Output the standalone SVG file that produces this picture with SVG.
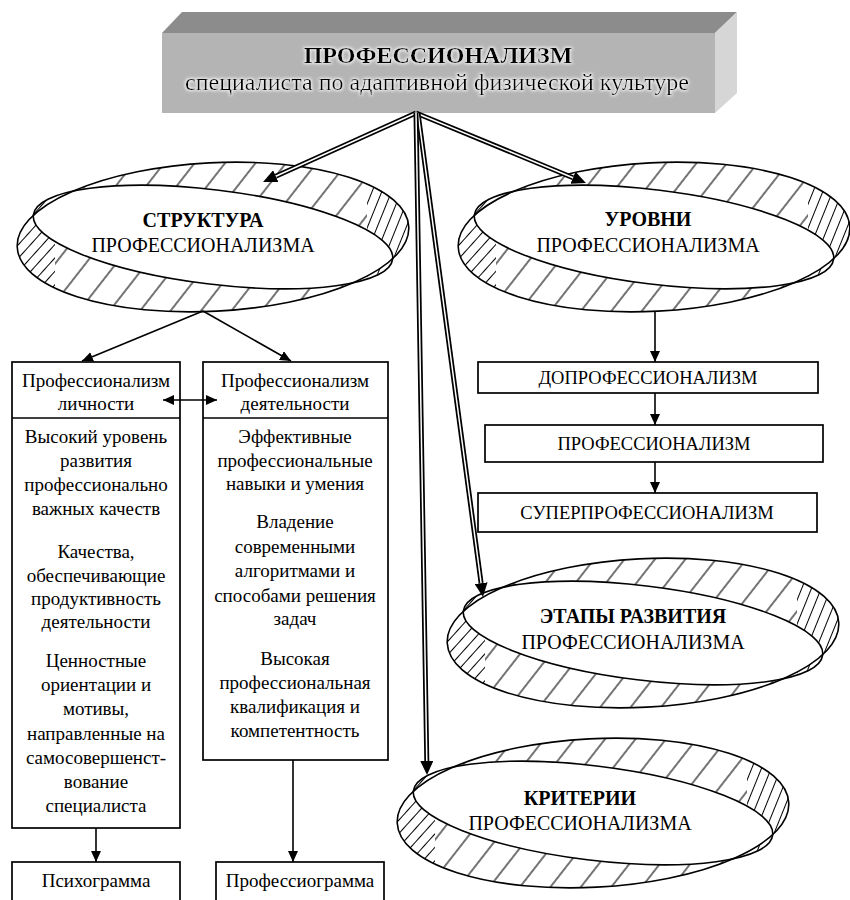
<svg xmlns="http://www.w3.org/2000/svg" width="850" height="900" viewBox="0 0 850 900">
<style>
text{font-family:"Liberation Serif","Times New Roman",serif;fill:#000;text-anchor:middle}
.t24{font-size:24px}
.b{font-weight:bold}
.e20{font-size:20px}
.bx{font-size:19px}
.lv{font-size:18.5px}
.box{fill:#fff;stroke:#000;stroke-width:1.7}
.ring{fill:none;stroke:#000;stroke-width:1.6}
.ln{fill:none;stroke:#000;stroke-width:1.6}
.dblk{fill:none;stroke:#000;stroke-width:5}
.dwht{fill:none;stroke:#fff;stroke-width:1.5}
</style>
<defs>
<filter id="glow" x="-10%" y="-30%" width="120%" height="160%">
<feMorphology in="SourceAlpha" operator="dilate" radius="1.2" result="d"/>
<feGaussianBlur in="d" stdDeviation="1.5" result="b"/>
<feFlood flood-color="#fff" flood-opacity="0.8"/>
<feComposite in2="b" operator="in" result="g"/>
<feMerge><feMergeNode in="g"/><feMergeNode in="SourceGraphic"/></feMerge>
</filter>
<pattern id="hatch" patternUnits="userSpaceOnUse" width="24" height="24" patternTransform="rotate(38)">
<line x1="12" y1="0" x2="12" y2="24" stroke="#000" stroke-width="1.1"/>
</pattern>
<pattern id="hatchL" patternUnits="userSpaceOnUse" width="9" height="9" patternTransform="rotate(42)">
<line x1="4.5" y1="0" x2="4.5" y2="9" stroke="#000" stroke-width="1"/>
</pattern>
<pattern id="hatchR" patternUnits="userSpaceOnUse" width="9" height="9" patternTransform="rotate(22)">
<line x1="4.5" y1="0" x2="4.5" y2="9" stroke="#000" stroke-width="1"/>
</pattern>
<path id="ringOuter" d="M -195.73 10.26 A 196 74 -3 1 0 195.73 -10.26 A 196 74 -3 1 0 -195.73 10.26 Z"/>
<path id="ringInner" d="M -179.65 -22.06 A 181 47 7 1 0 179.65 22.06 A 181 47 7 1 0 -179.65 -22.06 Z"/>
<clipPath id="ringClip">
<path clip-rule="evenodd" d="M -195.73 10.26 A 196 74 -3 1 0 195.73 -10.26 A 196 74 -3 1 0 -195.73 10.26 Z M -179.65 -22.06 A 181 47 7 1 0 179.65 22.06 A 181 47 7 1 0 -179.65 -22.06 Z"/>
</clipPath>
<g id="ringShape">
<use href="#ringInner" fill="#fff"/>
<g clip-path="url(#ringClip)">
<rect x="-200" y="-80" width="400" height="160" fill="#fff"/>
<rect x="-158" y="-80" width="312" height="160" fill="url(#hatch)"/>
<rect x="-200" y="-80" width="42" height="160" fill="url(#hatchL)"/>
<rect x="154" y="-80" width="46" height="160" fill="url(#hatchR)"/>
</g>
<use href="#ringOuter" class="ring"/>
<use href="#ringInner" class="ring"/>
</g>
<marker id="ah" markerUnits="userSpaceOnUse" markerWidth="12" markerHeight="10" refX="11" refY="5" orient="auto-start-reverse">
<path d="M0,0 L11,5 L0,10 z" fill="#000"/>
</marker>
<marker id="ah2" markerUnits="userSpaceOnUse" markerWidth="15" markerHeight="13" refX="0" refY="6.5" orient="auto">
<path d="M0,0 L14,6.5 L0,13 z" fill="#000"/>
</marker>
</defs>
<rect width="850" height="900" fill="#fff"/>

<g id="node-main">
<polygon points="162,33 182,12 737,12 715,33" fill="#8c8c8c"/>
<rect x="162" y="33" width="553" height="80" fill="#b4b4b4"/>
<polygon points="715,33 737,12 737,93 715,113" fill="#d6d6d6"/>
<g filter="url(#glow)">
<text class="t24 b" x="438" y="63">ПРОФЕССИОНАЛИЗМ</text>
<text class="t24" x="437" y="90">специалиста по адаптивной физической культуре</text>
</g>
</g>

<g id="node-structure" transform="translate(213,237)">
<use href="#ringShape"/>
<text class="e20 b" x="-10" y="-10">СТРУКТУРА</text>
<text class="e20" x="-10" y="15">ПРОФЕССИОНАЛИЗМА</text>
</g>

<g id="node-levels" transform="translate(654,237)">
<use href="#ringShape"/>
<text class="e20 b" x="-6" y="-11">УРОВНИ</text>
<text class="e20" x="-6" y="15">ПРОФЕССИОНАЛИЗМА</text>
</g>

<g id="node-stages" transform="translate(643,633)">
<use href="#ringShape"/>
<text class="e20 b" x="-10" y="-10">ЭТАПЫ РАЗВИТИЯ</text>
<text class="e20" x="-10" y="16">ПРОФЕССИОНАЛИЗМА</text>
</g>

<g id="node-criteria" transform="translate(593,813)">
<use href="#ringShape"/>
<text class="e20 b" x="-13" y="-8">КРИТЕРИИ</text>
<text class="e20" x="-13" y="17">ПРОФЕССИОНАЛИЗМА</text>
</g>

<g id="node-personality">
<rect class="box" x="12" y="362" width="168" height="466"/>
<line class="ln" x1="12" y1="418" x2="180" y2="418"/>
<text class="bx" x="96" y="387">Профессионализм</text>
<text class="bx" x="96" y="410">личности</text>
<text class="bx" x="96" y="443">Высокий уровень</text>
<text class="bx" x="96" y="467">развития</text>
<text class="bx" x="96" y="491">профессионально</text>
<text class="bx" x="96" y="515">важных качеств</text>
<text class="bx" x="96" y="558">Качества,</text>
<text class="bx" x="96" y="582">обеспечивающие</text>
<text class="bx" x="96" y="605">продуктивность</text>
<text class="bx" x="96" y="628">деятельности</text>
<text class="bx" x="96" y="667">Ценностные</text>
<text class="bx" x="96" y="691">ориентации и</text>
<text class="bx" x="96" y="715">мотивы,</text>
<text class="bx" x="96" y="740">направленные на</text>
<text class="bx" x="96" y="764">самосовершенст-</text>
<text class="bx" x="96" y="788">вование</text>
<text class="bx" x="96" y="812">специалиста</text>
</g>

<g id="node-activity">
<rect class="box" x="203" y="362" width="185" height="398"/>
<line class="ln" x1="203" y1="418" x2="388" y2="418"/>
<text class="bx" x="295" y="387">Профессионализм</text>
<text class="bx" x="295" y="410">деятельности</text>
<text class="bx" x="295" y="443">Эффективные</text>
<text class="bx" x="295" y="467">профессиональные</text>
<text class="bx" x="295" y="490">навыки и умения</text>
<text class="bx" x="295" y="528">Владение</text>
<text class="bx" x="295" y="553">современными</text>
<text class="bx" x="295" y="577">алгоритмами и</text>
<text class="bx" x="295" y="602">способами решения</text>
<text class="bx" x="295" y="625">задач</text>
<text class="bx" x="295" y="665">Высокая</text>
<text class="bx" x="295" y="689">профессиональная</text>
<text class="bx" x="295" y="713">квалификация и</text>
<text class="bx" x="295" y="737">компетентность</text>
</g>

<g id="node-psychogram">
<rect class="box" x="12" y="862" width="168" height="50"/>
<text class="bx" x="96" y="887">Психограмма</text>
</g>

<g id="node-professiogram">
<rect class="box" x="216" y="862" width="168" height="50"/>
<text class="bx" x="300" y="887">Профессиограмма</text>
</g>

<g id="node-preprof">
<rect class="box" x="478" y="362" width="340" height="31"/>
<text class="lv" x="648" y="384">ДОПРОФЕССИОНАЛИЗМ</text>
</g>

<g id="node-prof">
<rect class="box" x="485" y="425" width="338" height="37"/>
<text class="lv" x="654" y="450">ПРОФЕССИОНАЛИЗМ</text>
</g>

<g id="node-superprof">
<rect class="box" x="478" y="493" width="339" height="39"/>
<text class="lv" x="647" y="519">СУПЕРПРОФЕССИОНАЛИЗМ</text>
</g>

<g id="connectors">
<path class="dblk" d="M416,113 L275.8,176.2" marker-end="url(#ah2)"/>
<path class="dwht" d="M416,113 L275.8,176.2"/>
<path class="dblk" d="M416,113 L573.0,177.7" marker-end="url(#ah2)"/>
<path class="dwht" d="M416,113 L573.0,177.7"/>
<path class="dblk" d="M418,113 L481.1,583.1" marker-end="url(#ah2)"/>
<path class="dwht" d="M418,113 L481.1,583.1"/>
<path class="dblk" d="M416,113 L426.8,761.0" marker-end="url(#ah2)"/>
<path class="dwht" d="M416,113 L426.8,761.0"/>

<path class="ln" d="M203,311 L82,361" marker-end="url(#ah)"/>
<path class="ln" d="M203,311 L291,361" marker-end="url(#ah)"/>
<path class="ln" d="M163,400 L217,400" marker-start="url(#ah)" marker-end="url(#ah)"/>
<path class="ln" d="M96,828 L96,862" marker-end="url(#ah)"/>
<path class="ln" d="M293,760 L293,862" marker-end="url(#ah)"/>
<path class="ln" d="M655,311 L655,362" marker-end="url(#ah)"/>
<path class="ln" d="M655,393 L655,425" marker-end="url(#ah)"/>
<path class="ln" d="M655,462 L655,493" marker-end="url(#ah)"/>
</g>
</svg>
